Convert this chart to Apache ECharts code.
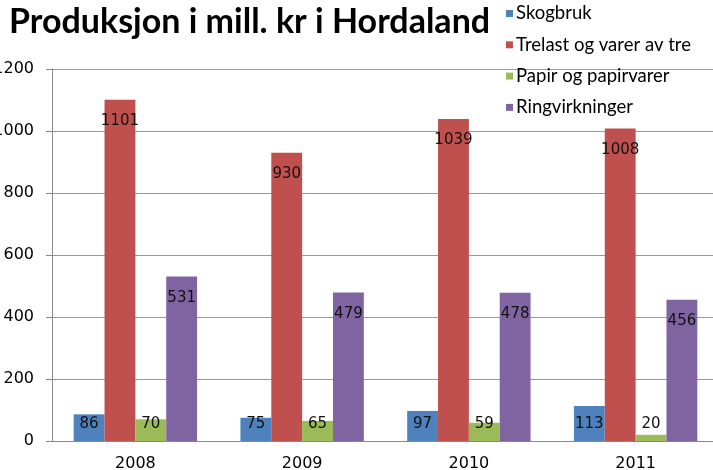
<!DOCTYPE html>
<html>
<head>
<meta charset="utf-8">
<script src="https://cdn.jsdelivr.net/npm/echarts@6/dist/echarts.min.js"></script>
<style>
  html, body { margin: 0; padding: 0; background: #fff; }
  #chart { width: 713px; height: 470px; }
</style>
</head>
<body>
<div id="chart"></div>
<script>
// år (kategorier)
const years = ["2008", "2009", "2010", "2011"];
// verdier i mill. kr
const skogbruk = [86, 75, 97, 113];
const trelast = [1101, 930, 1039, 1008];
const papir = [70, 65, 59, 20];
const ringvirkninger = [531, 479, 478, 456];
const yTicks = [0, 200, 400, 600, 800, 1000, 1200];

const seriesNames = ["Skogbruk", "Trelast og varer av tre", "Papir og papirvarer", "Ringvirkninger"];
const seriesData = [skogbruk, trelast, papir, ringvirkninger];
const colors = ["#4F81BD", "#C0504D", "#9BBB59", "#8064A2"];

let myChart = echarts.init(document.getElementById("chart"));

// labels sit inside the top of the bar, small bars get them just above the axis
function toItems(arr) {
  return arr.map(v => {
    if (v < 150) {
      return { value: v, label: { position: "insideBottom", distance: 9 } };
    }
    return { value: v };
  });
}

let option = {
  animation: false,
  color: colors,
  title: {
    text: "Produksjon i mill. kr i Hordaland",
    left: 9,
    top: 5,
    padding: 0,
    textStyle: {
      fontFamily: "Lato",
      fontWeight: "bold",
      fontSize: 34,
      color: "#000"
    }
  },
  legend: {
    orient: "vertical",
    left: 506,
    top: 4,
    padding: 0,
    itemWidth: 7,
    itemHeight: 7,
    itemGap: 12.3,
    icon: "rect",
    data: seriesNames,
    textStyle: {
      fontFamily: "Lato",
      fontSize: 18.5,
      lineHeight: 18,
      color: "#000",
      padding: [0, 0, 0, -2]
    }
  },
  grid: {
    left: 52,
    top: 69,
    right: -6,
    bottom: 29,
    containLabel: false,
    outerBoundsMode: "none"
  },
  xAxis: {
    type: "category",
    data: years,
    axisLine: { lineStyle: { color: "#888" } },
    axisTick: { length: 6, lineStyle: { color: "#888" } },
    axisLabel: {
      margin: 15,
      fontFamily: "DejaVu Sans",
      fontSize: 16,
      color: "#000"
    }
  },
  yAxis: {
    type: "value",
    min: yTicks[0],
    max: yTicks[yTicks.length - 1],
    interval: 200,
    axisLine: { show: true, lineStyle: { color: "#888" } },
    axisTick: { show: true, length: 6, lineStyle: { color: "#888" } },
    splitLine: { lineStyle: { color: "#999" } },
    axisLabel: {
      margin: 18,
      fontFamily: "DejaVu Sans",
      fontSize: 16,
      color: "#000",
      formatter: v => String(v)
    }
  },
  series: seriesNames.map((name, i) => ({
    name: name,
    type: "bar",
    barGap: "0%",
    barCategoryGap: "26%",
    label: {
      show: true,
      position: "insideTop",
      distance: 14,
      fontFamily: "DejaVu Sans",
      fontSize: 15,
      color: "#111"
    },
    data: toItems(seriesData[i])
  }))
};

myChart.setOption(option);
</script>
</body>
</html>
